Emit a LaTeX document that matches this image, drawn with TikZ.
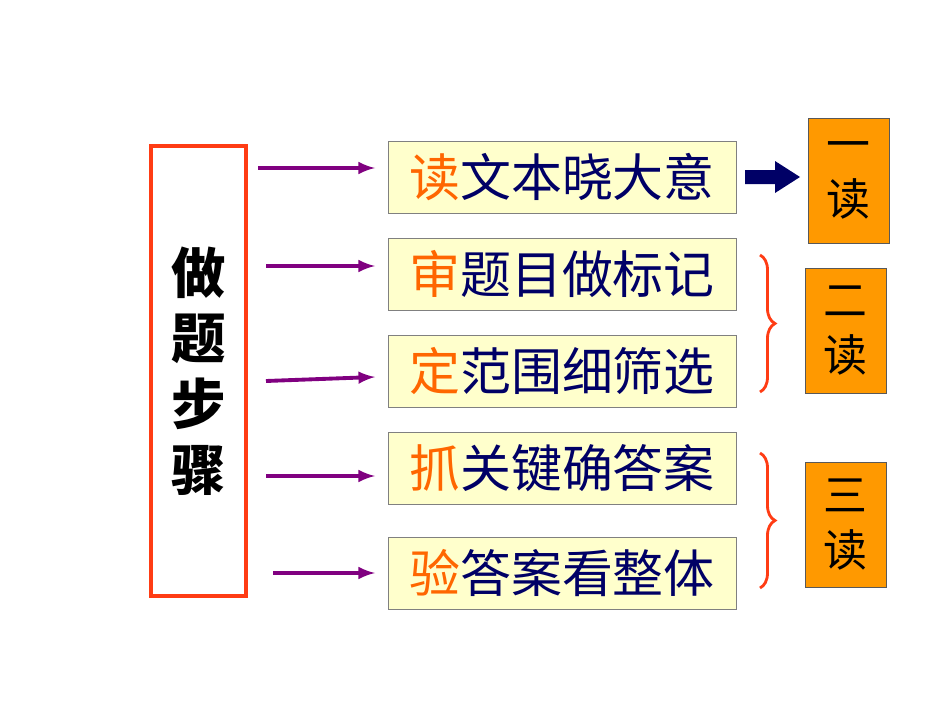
\documentclass[tikz,border=0pt]{standalone}
\usepackage{fontspec}
\setmainfont{Noto Sans CJK SC}
\usetikzlibrary{decorations.pathreplacing}
\definecolor{stepred}{RGB}{255,60,20}
\definecolor{keyorange}{RGB}{255,102,0}
\definecolor{textnavy}{RGB}{0,0,102}
\definecolor{boxyellow}{RGB}{255,255,204}
\definecolor{arrpurple}{RGB}{128,0,128}
\definecolor{readorange}{RGB}{255,153,0}
\tikzset{
  stepbox/.style={draw=gray,fill=boxyellow,minimum width=6.96cm,minimum height=1.44cm,
    inner sep=0pt,font=\fontsize{29}{32}\selectfont,text=textnavy},
  readbox/.style={draw=gray!70!black,fill=readorange,minimum width=1.62cm,minimum height=2.5cm,
    inner sep=0pt,align=center,font=\fontsize{25}{31}\selectfont,text=black},
  go/.style={-latex,line width=2.2pt,arrpurple},
  brace/.style={decorate,decoration={brace,amplitude=0.3cm},stepred,line width=1.6pt}
}
\begin{document}
\begin{tikzpicture}[x=0.02cm,y=-0.02cm]
\useasboundingbox (0,0) rectangle (950,713);

% Left box
\node[draw=stepred,line width=2.5pt,fill=white,minimum width=1.9cm,minimum height=9cm,
  align=center,font=\fontsize{31}{34}\selectfont\bfseries] (title) at (198.5,371)
  {做\\[0.12cm]题\\[0.12cm]步\\[0.12cm]骤};

% Steps
\node[stepbox] (s1) at (562,177) {\textcolor{keyorange}{读}文本晓大意};
\node[stepbox] (s2) at (562,274) {\textcolor{keyorange}{审}题目做标记};
\node[stepbox] (s3) at (562,371) {\textcolor{keyorange}{定}范围细筛选};
\node[stepbox] (s4) at (562,468) {\textcolor{keyorange}{抓}关键确答案};
\node[stepbox] (s5) at (562,573) {\textcolor{keyorange}{验}答案看整体};

% Arrow tails
\coordinate (a1) at (258,168);
\coordinate (a2) at (266,266);
\coordinate (a3) at (266,381);
\coordinate (a4) at (266,476);
\coordinate (a5) at (273,573);
\draw[go] (a1) -- (375,168);
\draw[go] (a2) -- (375,266);
\draw[go] (a3) -- (375,377);
\draw[go] (a4) -- (375,476);
\draw[go] (a5) -- (375,573);

% Readings
\node[readbox] (r1) at (848.5,180.5) {一\\读};
\node[readbox] (r2) at (845.5,330.5) {二\\读};
\node[readbox] (r3) at (845.5,524.5) {三\\读};

% Block arrow
\fill[textnavy] (745,170) -- (775,170) -- (775,161) -- (800,177) -- (775,193)
  -- (775,184) -- (745,184) -- cycle;

% Braces
\draw[brace] (760,255) -- (760,392);
\draw[brace] (760,453) -- (760,588);
\end{tikzpicture}
\end{document}
